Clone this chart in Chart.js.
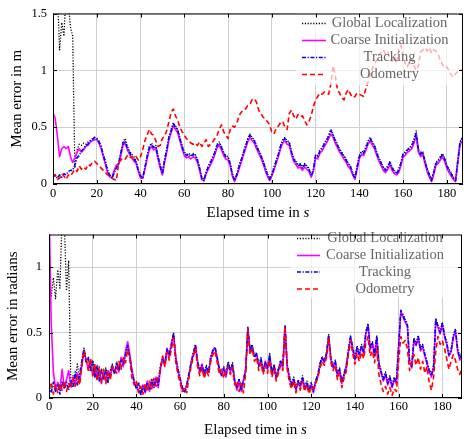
<!DOCTYPE html>
<html>
<head>
<meta charset="utf-8">
<script src="https://cdn.jsdelivr.net/npm/chart.js@4.4.1/dist/chart.umd.min.js"></script>
<style>
	html, body { margin: 0; padding: 0; background: #fff; }
	#wrap { position: relative; width: 464px; height: 439px; }
	canvas { position: absolute; left: 0; }
	#pos-chart { top: 0; }
	#rot-chart { top: 220px; }
</style>
</head>
<body>
<div id="wrap">
	<canvas id="pos-chart" width="464" height="220"></canvas>
	<canvas id="rot-chart" width="464" height="219"></canvas>
</div>
<script>
const seriesNames = ["Global Localization", "Coarse Initialization", "Tracking", "Odometry"];
const xTicks = [0, 20, 40, 60, 80, 100, 120, 140, 160, 180];
const posTicks = [0, 0.5, 1, 1.5];
const rotTicks = [0, 0.5, 1];

// position error (m), one sample per second
const posGlobal = [
	1.8, 1.8, 1.7, 1.18, 1.42, 1.3, 1.7, 1.6, 1.38, 1.3,
	0.14, 0.30, 0.35, 0.34, 0.36, 0.35, 0.37, 0.38, 0.40, 0.41,
	0.40, 0.38, 0.33, 0.26, 0.20, 0.12, 0.08, 0.06, 0.11, 0.15,
	0.19, 0.28, 0.37, 0.40, 0.33, 0.29, 0.26, 0.24, 0.20, 0.13,
	0.08, 0.06, 0.15, 0.25, 0.33, 0.36, 0.33, 0.34, 0.25, 0.17,
	0.10, 0.22, 0.31, 0.42, 0.48, 0.54, 0.51, 0.48, 0.41, 0.34,
	0.28, 0.26, 0.27, 0.25, 0.27, 0.26, 0.22, 0.15, 0.06, 0.04,
	0.11, 0.16, 0.20, 0.24, 0.29, 0.35, 0.37, 0.33, 0.28, 0.25,
	0.24, 0.19, 0.09, 0.04, 0.09, 0.16, 0.22, 0.28, 0.34, 0.40,
	0.44, 0.41, 0.39, 0.34, 0.30, 0.26, 0.21, 0.15, 0.09, 0.05,
	0.09, 0.15, 0.21, 0.27, 0.34, 0.39, 0.41, 0.38, 0.37, 0.29,
	0.23, 0.20, 0.17, 0.18, 0.15, 0.18, 0.16, 0.14, 0.08, 0.13,
	0.26, 0.25, 0.30, 0.32, 0.36, 0.39, 0.43, 0.48, 0.44, 0.39,
	0.35, 0.31, 0.28, 0.25, 0.22, 0.18, 0.16, 0.10, 0.06, 0.16,
	0.25, 0.29, 0.28, 0.33, 0.38, 0.41, 0.37, 0.34, 0.28, 0.23,
	0.19, 0.15, 0.13, 0.16, 0.20, 0.15, 0.12, 0.10, 0.13, 0.19,
	0.27, 0.28, 0.31, 0.32, 0.35, 0.40, 0.47, 0.31, 0.27, 0.29,
	0.21, 0.14, 0.09, 0.04, 0.11, 0.19, 0.21, 0.24, 0.27, 0.23,
	0.17, 0.13, 0.10, 0.06, 0.04, 0.21, 0.37, 0.41,
];
const posCoarse = [
	0.62, 0.58, 0.42, 0.24, 0.31, 0.33, 0.31, 0.33, 0.24, 0.19,
	0.23, 0.28, 0.31, 0.28, 0.30, 0.33, 0.34, 0.37, 0.38, 0.39,
	0.39, 0.36, 0.31, 0.24, 0.17, 0.10, 0.06, 0.06, 0.12, 0.17,
	0.17, 0.25, 0.34, 0.36, 0.30, 0.26, 0.23, 0.20, 0.18, 0.11,
	0.05, 0.05, 0.13, 0.22, 0.30, 0.33, 0.30, 0.31, 0.22, 0.14,
	0.08, 0.19, 0.28, 0.39, 0.45, 0.51, 0.48, 0.45, 0.38, 0.31,
	0.25, 0.23, 0.24, 0.22, 0.24, 0.23, 0.19, 0.12, 0.04, 0.03,
	0.09, 0.13, 0.17, 0.21, 0.26, 0.32, 0.34, 0.30, 0.25, 0.22,
	0.21, 0.16, 0.07, 0.02, 0.07, 0.13, 0.19, 0.25, 0.31, 0.37,
	0.41, 0.38, 0.36, 0.31, 0.27, 0.23, 0.18, 0.12, 0.07, 0.03,
	0.07, 0.12, 0.18, 0.24, 0.31, 0.36, 0.38, 0.35, 0.34, 0.26,
	0.20, 0.17, 0.14, 0.15, 0.12, 0.15, 0.13, 0.11, 0.06, 0.11,
	0.23, 0.22, 0.27, 0.29, 0.33, 0.36, 0.40, 0.44, 0.41, 0.36,
	0.32, 0.28, 0.25, 0.22, 0.19, 0.15, 0.13, 0.08, 0.04, 0.13,
	0.22, 0.26, 0.25, 0.30, 0.35, 0.38, 0.34, 0.31, 0.25, 0.20,
	0.16, 0.12, 0.10, 0.13, 0.17, 0.12, 0.09, 0.08, 0.10, 0.16,
	0.24, 0.25, 0.28, 0.29, 0.31, 0.36, 0.42, 0.28, 0.24, 0.26,
	0.18, 0.11, 0.06, 0.02, 0.08, 0.16, 0.18, 0.21, 0.24, 0.20,
	0.14, 0.10, 0.07, 0.04, 0.02, 0.18, 0.34, 0.38,
];
const posTracking = [
	0.06, 0.08, 0.05, 0.08, 0.06, 0.09, 0.08, 0.11, 0.12, 0.12,
	0.17, 0.23, 0.25, 0.29, 0.31, 0.34, 0.35, 0.38, 0.39, 0.41,
	0.40, 0.37, 0.33, 0.25, 0.19, 0.11, 0.07, 0.05, 0.10, 0.14,
	0.18, 0.27, 0.36, 0.38, 0.31, 0.28, 0.24, 0.22, 0.19, 0.12,
	0.07, 0.05, 0.14, 0.24, 0.32, 0.35, 0.32, 0.33, 0.24, 0.16,
	0.09, 0.21, 0.30, 0.41, 0.47, 0.53, 0.50, 0.47, 0.40, 0.33,
	0.27, 0.25, 0.26, 0.24, 0.26, 0.25, 0.21, 0.14, 0.05, 0.03,
	0.10, 0.15, 0.19, 0.23, 0.28, 0.34, 0.36, 0.32, 0.27, 0.24,
	0.23, 0.18, 0.08, 0.03, 0.08, 0.15, 0.21, 0.27, 0.33, 0.39,
	0.43, 0.40, 0.38, 0.33, 0.29, 0.25, 0.20, 0.14, 0.08, 0.04,
	0.08, 0.14, 0.20, 0.26, 0.33, 0.38, 0.40, 0.37, 0.36, 0.28,
	0.22, 0.19, 0.16, 0.17, 0.14, 0.17, 0.15, 0.13, 0.07, 0.12,
	0.25, 0.24, 0.29, 0.31, 0.35, 0.38, 0.42, 0.47, 0.43, 0.38,
	0.34, 0.30, 0.27, 0.24, 0.21, 0.17, 0.15, 0.09, 0.05, 0.15,
	0.24, 0.28, 0.27, 0.32, 0.37, 0.40, 0.36, 0.33, 0.27, 0.22,
	0.18, 0.14, 0.12, 0.15, 0.19, 0.14, 0.11, 0.09, 0.12, 0.18,
	0.26, 0.27, 0.30, 0.31, 0.33, 0.38, 0.45, 0.30, 0.26, 0.28,
	0.20, 0.13, 0.08, 0.03, 0.10, 0.18, 0.20, 0.23, 0.26, 0.22,
	0.16, 0.12, 0.09, 0.05, 0.03, 0.20, 0.36, 0.40,
];
const posOdometry = [
	0.06, 0.08, 0.04, 0.05, 0.09, 0.07, 0.04, 0.08, 0.07, 0.10,
	0.13, 0.11, 0.16, 0.13, 0.15, 0.13, 0.17, 0.16, 0.19, 0.20,
	0.18, 0.16, 0.14, 0.12, 0.10, 0.08, 0.07, 0.05, 0.04, 0.03,
	0.19, 0.21, 0.23, 0.22, 0.25, 0.23, 0.24, 0.22, 0.24, 0.21,
	0.24, 0.30, 0.38, 0.43, 0.48, 0.44, 0.43, 0.38, 0.33, 0.34,
	0.40, 0.42, 0.47, 0.55, 0.63, 0.66, 0.60, 0.56, 0.50, 0.46,
	0.43, 0.40, 0.38, 0.36, 0.35, 0.36, 0.34, 0.37, 0.33, 0.36,
	0.39, 0.33, 0.35, 0.37, 0.40, 0.43, 0.48, 0.52, 0.46, 0.43,
	0.40, 0.48, 0.51, 0.50, 0.53, 0.60, 0.63, 0.65, 0.66, 0.69,
	0.70, 0.74, 0.75, 0.72, 0.65, 0.62, 0.59, 0.57, 0.55, 0.52,
	0.46, 0.44, 0.49, 0.51, 0.54, 0.55, 0.50, 0.48, 0.62, 0.65,
	0.60, 0.57, 0.61, 0.59, 0.60, 0.56, 0.52, 0.55, 0.60, 0.68,
	0.74, 0.77, 0.80, 0.79, 0.81, 0.80, 0.79, 0.88, 1.04, 0.96,
	0.83, 0.80, 0.76, 0.74, 0.80, 0.83, 0.79, 0.76, 0.77, 0.80,
	0.79, 0.78, 0.77, 0.84, 0.90, 0.97, 1.02, 1.06, 1.09, 1.13,
	1.16, 1.18, 1.14, 1.16, 1.10, 1.08, 1.12, 1.06, 1.18, 1.22,
	1.14, 1.06, 1.03, 1.08, 1.10, 1.04, 1.00, 1.04, 1.16, 1.18,
	1.20, 1.17, 1.20, 1.15, 1.18, 1.17, 1.14, 1.09, 1.05, 1.02,
	1.03, 1.00, 0.96, 0.94, 0.97, 0.99, 1.00, 1.01,
];

// rotation error (rad), one sample per second
const rotGlobal = [
	1.0, 0.78, 0.92, 0.76, 0.98, 0.84, 1.4, 1.35, 0.82, 1.05,
	0.10, 0.17, 0.13, 0.26, 0.15, 0.24, 0.37, 0.28, 0.30, 0.22,
	0.29, 0.17, 0.25, 0.14, 0.22, 0.15, 0.23, 0.13, 0.21, 0.26,
	0.19, 0.28, 0.22, 0.30, 0.26, 0.34, 0.39, 0.32, 0.20, 0.13,
	0.08, 0.12, 0.03, 0.10, 0.06, 0.13, 0.07, 0.15, 0.09, 0.16,
	0.11, 0.25, 0.31, 0.27, 0.38, 0.34, 0.41, 0.49, 0.31, 0.23,
	0.15, 0.09, 0.05, 0.10, 0.19, 0.27, 0.35, 0.40, 0.28, 0.22,
	0.26, 0.19, 0.25, 0.20, 0.32, 0.37, 0.38, 0.31, 0.23, 0.18,
	0.24, 0.19, 0.28, 0.22, 0.27, 0.13, 0.09, 0.15, 0.07, 0.14,
	0.23, 0.53, 0.37, 0.41, 0.32, 0.35, 0.25, 0.31, 0.22, 0.28,
	0.24, 0.34, 0.20, 0.26, 0.17, 0.23, 0.29, 0.25, 0.55, 0.26,
	0.17, 0.11, 0.16, 0.08, 0.14, 0.10, 0.17, 0.09, 0.13, 0.07,
	0.12, 0.06, 0.14, 0.18, 0.27, 0.32, 0.29, 0.35, 0.49, 0.31,
	0.25, 0.29, 0.19, 0.23, 0.13, 0.19, 0.25, 0.37, 0.48, 0.39,
	0.31, 0.40, 0.34, 0.41, 0.36, 0.51, 0.57, 0.39, 0.43, 0.34,
	0.48, 0.27, 0.21, 0.15, 0.20, 0.12, 0.17, 0.10, 0.16, 0.13,
	0.41, 0.66, 0.64, 0.60, 0.57, 0.29, 0.25, 0.46, 0.42, 0.48,
	0.38, 0.41, 0.34, 0.28, 0.22, 0.18, 0.25, 0.61, 0.56, 0.51,
	0.58, 0.49, 0.43, 0.34, 0.37, 0.48, 0.53, 0.38, 0.31, 0.35,
];
const rotCoarse = [
	1.5, 0.58, 0.20, 0.07, 0.12, 0.06, 0.22, 0.08, 0.14, 0.21,
	0.09, 0.16, 0.10, 0.19, 0.12, 0.25, 0.36, 0.29, 0.22, 0.29,
	0.17, 0.25, 0.14, 0.22, 0.11, 0.20, 0.13, 0.21, 0.15, 0.23,
	0.20, 0.24, 0.20, 0.31, 0.24, 0.36, 0.43, 0.33, 0.21, 0.13,
	0.09, 0.05, 0.03, 0.10, 0.04, 0.13, 0.05, 0.12, 0.09, 0.16,
	0.08, 0.22, 0.31, 0.25, 0.38, 0.31, 0.42, 0.48, 0.32, 0.20,
	0.15, 0.06, 0.05, 0.10, 0.17, 0.27, 0.33, 0.40, 0.28, 0.19,
	0.26, 0.17, 0.23, 0.20, 0.29, 0.37, 0.38, 0.31, 0.20, 0.18,
	0.22, 0.16, 0.25, 0.20, 0.24, 0.13, 0.06, 0.12, 0.05, 0.14,
	0.20, 0.52, 0.37, 0.38, 0.32, 0.33, 0.25, 0.28, 0.20, 0.28,
	0.22, 0.31, 0.18, 0.24, 0.15, 0.21, 0.27, 0.23, 0.54, 0.24,
	0.15, 0.09, 0.14, 0.06, 0.12, 0.08, 0.15, 0.07, 0.11, 0.05,
	0.10, 0.04, 0.12, 0.16, 0.25, 0.30, 0.27, 0.33, 0.47, 0.29,
	0.23, 0.27, 0.17, 0.21, 0.11, 0.17, 0.23, 0.35, 0.46, 0.37,
	0.29, 0.38, 0.32, 0.39, 0.34, 0.49, 0.55, 0.37, 0.41, 0.32,
	0.46, 0.25, 0.19, 0.13, 0.18, 0.10, 0.15, 0.08, 0.14, 0.11,
	0.39, 0.66, 0.62, 0.58, 0.55, 0.27, 0.23, 0.44, 0.40, 0.46,
	0.36, 0.39, 0.32, 0.26, 0.20, 0.16, 0.23, 0.59, 0.54, 0.49,
	0.56, 0.47, 0.41, 0.32, 0.35, 0.46, 0.51, 0.36, 0.29, 0.33,
];
const rotTracking = [
	0.10, 0.04, 0.12, 0.05, 0.10, 0.03, 0.13, 0.07, 0.12, 0.06,
	0.14, 0.08, 0.20, 0.10, 0.18, 0.28, 0.38, 0.27, 0.31, 0.20,
	0.28, 0.16, 0.24, 0.13, 0.21, 0.14, 0.22, 0.12, 0.20, 0.25,
	0.18, 0.27, 0.21, 0.29, 0.25, 0.33, 0.40, 0.31, 0.19, 0.12,
	0.07, 0.11, 0.02, 0.09, 0.05, 0.12, 0.06, 0.14, 0.08, 0.15,
	0.10, 0.24, 0.30, 0.26, 0.37, 0.33, 0.40, 0.50, 0.30, 0.22,
	0.14, 0.08, 0.04, 0.09, 0.18, 0.26, 0.34, 0.41, 0.27, 0.21,
	0.25, 0.18, 0.24, 0.19, 0.31, 0.36, 0.39, 0.30, 0.22, 0.17,
	0.23, 0.18, 0.27, 0.21, 0.26, 0.12, 0.08, 0.14, 0.06, 0.13,
	0.22, 0.54, 0.36, 0.40, 0.31, 0.34, 0.24, 0.30, 0.21, 0.27,
	0.23, 0.33, 0.19, 0.25, 0.16, 0.22, 0.28, 0.24, 0.56, 0.25,
	0.16, 0.10, 0.15, 0.07, 0.13, 0.09, 0.16, 0.08, 0.12, 0.06,
	0.11, 0.05, 0.13, 0.17, 0.26, 0.31, 0.28, 0.34, 0.48, 0.30,
	0.24, 0.28, 0.18, 0.22, 0.12, 0.18, 0.24, 0.36, 0.47, 0.38,
	0.30, 0.39, 0.33, 0.40, 0.35, 0.50, 0.56, 0.38, 0.42, 0.33,
	0.47, 0.26, 0.20, 0.14, 0.19, 0.11, 0.16, 0.09, 0.15, 0.12,
	0.40, 0.67, 0.63, 0.59, 0.56, 0.28, 0.24, 0.45, 0.41, 0.47,
	0.37, 0.40, 0.33, 0.27, 0.21, 0.17, 0.24, 0.60, 0.55, 0.50,
	0.57, 0.48, 0.42, 0.33, 0.36, 0.47, 0.52, 0.37, 0.30, 0.34,
];
const rotOdometry = [
	0.07, 0.12, 0.03, 0.10, 0.04, 0.11, 0.06, 0.13, 0.05, 0.11,
	0.07, 0.15, 0.09, 0.17, 0.10, 0.24, 0.36, 0.30, 0.21, 0.30,
	0.17, 0.26, 0.13, 0.24, 0.12, 0.22, 0.11, 0.21, 0.14, 0.24,
	0.22, 0.19, 0.28, 0.22, 0.31, 0.27, 0.37, 0.30, 0.15, 0.10,
	0.13, 0.04, 0.09, 0.03, 0.11, 0.05, 0.13, 0.07, 0.15, 0.09,
	0.17, 0.21, 0.32, 0.24, 0.35, 0.29, 0.37, 0.46, 0.28, 0.18,
	0.12, 0.05, 0.08, 0.04, 0.15, 0.24, 0.31, 0.38, 0.24, 0.17,
	0.23, 0.15, 0.21, 0.17, 0.28, 0.33, 0.36, 0.27, 0.18, 0.22,
	0.15, 0.21, 0.24, 0.18, 0.23, 0.10, 0.13, 0.05, 0.11, 0.04,
	0.19, 0.53, 0.33, 0.38, 0.28, 0.31, 0.21, 0.27, 0.18, 0.25,
	0.19, 0.29, 0.16, 0.22, 0.13, 0.19, 0.25, 0.21, 0.55, 0.22,
	0.12, 0.07, 0.13, 0.04, 0.11, 0.06, 0.13, 0.05, 0.10, 0.03,
	0.09, 0.07, 0.11, 0.15, 0.23, 0.28, 0.25, 0.31, 0.46, 0.27,
	0.21, 0.25, 0.14, 0.19, 0.08, 0.15, 0.20, 0.33, 0.44, 0.34,
	0.26, 0.34, 0.28, 0.35, 0.30, 0.42, 0.47, 0.32, 0.36, 0.27,
	0.38, 0.18, 0.10, 0.05, 0.09, 0.03, 0.08, 0.02, 0.07, 0.05,
	0.28, 0.47, 0.42, 0.44, 0.38, 0.21, 0.27, 0.33, 0.25, 0.31,
	0.22, 0.28, 0.19, 0.24, 0.12, 0.06, 0.16, 0.36, 0.47, 0.41,
	0.44, 0.38, 0.30, 0.22, 0.28, 0.33, 0.29, 0.22, 0.18, 0.24,
];

const secondsPos = posTracking.map((_, i) => i);
const secondsRot = rotTracking.map((_, i) => i);

const seriesStyle = [
	{ color: "#000000", dash: [1.2, 1.6], width: 1.3, order: 4 },
	{ color: "#ff00ff", dash: [], width: 1.6, order: 3 },
	{ color: "#0000ff", dash: [4, 1.6, 1.2, 1.6], width: 1.6, order: 2 },
	{ color: "#ff0000", dash: [5, 3], width: 1.6, order: 1 },
];

const FONT = "'Liberation Serif', 'Times New Roman', serif";
Chart.defaults.font.family = FONT;

function boxPlugin(cfg) {
	return {
		id: "boxed",
		afterDraw(chart) {
			const { ctx, chartArea: a } = chart;
			const xs = chart.scales.x;
			const ys = chart.scales.y;
			ctx.save();

			// legend, semi transparent
			const lg = cfg.legend;
			ctx.fillStyle = "rgba(255,255,255,0.68)";
			ctx.fillRect(lg.x, lg.y, lg.w, lg.h);
			seriesNames.forEach((name, i) => {
				const st = seriesStyle[i];
				const y = lg.rows[i];
				ctx.strokeStyle = st.color;
				ctx.lineWidth = st.width;
				ctx.setLineDash(st.dash);
				ctx.beginPath();
				ctx.moveTo(lg.lineFrom, y);
				ctx.lineTo(lg.lineTo, y);
				ctx.stroke();
				ctx.setLineDash([]);
				ctx.fillStyle = "#666";
				ctx.font = "14.5px " + FONT;
				ctx.textAlign = "center";
				ctx.textBaseline = "middle";
				ctx.fillText(name, lg.textX, y);
			});

			// inner tick marks and frame
			ctx.strokeStyle = "#000";
			ctx.lineWidth = 1;
			ctx.beginPath();
			xTicks.forEach((v) => {
				const px = Math.round(xs.getPixelForValue(v)) + 0.5;
				ctx.moveTo(px, a.bottom);
				ctx.lineTo(px, a.bottom - 4);
				ctx.moveTo(px, a.top);
				ctx.lineTo(px, a.top + 4);
			});
			cfg.yTicks.forEach((v) => {
				const py = Math.round(ys.getPixelForValue(v)) + 0.5;
				ctx.moveTo(a.left, py);
				ctx.lineTo(a.left + 4, py);
				ctx.moveTo(a.right, py);
				ctx.lineTo(a.right - 4, py);
			});
			ctx.stroke();
			ctx.strokeRect(a.left + 0.5, a.top + 0.5, a.right - a.left - 1, a.bottom - a.top - 1);

			// axis titles
			ctx.fillStyle = "#000";
			ctx.textBaseline = "middle";
			const plain = "Elapsed time in ";
			ctx.font = "15px " + FONT;
			const w1 = ctx.measureText(plain).width;
			ctx.font = "italic 15px " + FONT;
			const w2 = ctx.measureText("s").width;
			const x0 = (a.left + a.right) / 2 - (w1 + w2) / 2;
			ctx.textAlign = "left";
			ctx.font = "15px " + FONT;
			ctx.fillText(plain, x0, cfg.xTitleY);
			ctx.font = "italic 15px " + FONT;
			ctx.fillText("s", x0 + w1, cfg.xTitleY);

			ctx.font = "15px " + FONT;
			ctx.textAlign = "center";
			ctx.translate(cfg.yTitleX, (a.top + a.bottom) / 2);
			ctx.rotate(-Math.PI / 2);
			ctx.fillText(cfg.yTitle, 0, 0);
			ctx.restore();
		},
	};
}

function renderChart(canvasId, cfg) {
	const values = [cfg.global, cfg.coarse, cfg.tracking, cfg.odometry];
	return new Chart(document.getElementById(canvasId), {
		type: "line",
		data: {
			labels: cfg.seconds,
			datasets: values.map((v, i) => ({
				label: seriesNames[i],
				data: v,
				borderColor: seriesStyle[i].color,
				borderDash: seriesStyle[i].dash,
				borderWidth: seriesStyle[i].width,
				borderJoinStyle: "round",
				pointRadius: 0,
				tension: 0,
				fill: false,
				order: seriesStyle[i].order,
			})),
		},
		options: {
			responsive: false,
			animation: false,
			devicePixelRatio: 1,
			events: [],
			layout: { padding: cfg.padding },
			plugins: {
				legend: { display: false },
				tooltip: { enabled: false },
			},
			scales: {
				x: {
					type: "linear",
					min: 0,
					max: cfg.xMax,
					afterBuildTicks: (s) => {
						s.ticks = xTicks.map((v) => ({ value: v }));
					},
					afterFit: (s) => {
						s.height = cfg.xHeight;
					},
					grid: { color: "#cfcfcf", drawTicks: false },
					border: { display: false },
					ticks: {
						color: "#000",
						font: { size: 12.5 },
						padding: cfg.xPad,
						maxRotation: 0,
						autoSkip: false,
						callback: (v) => String(v),
					},
				},
				y: {
					min: 0,
					max: cfg.yMax,
					afterBuildTicks: (s) => {
						s.ticks = cfg.yTicks.map((v) => ({ value: v }));
					},
					afterFit: (s) => {
						s.width = cfg.yWidth;
					},
					grid: { color: "#cfcfcf", drawTicks: false },
					border: { display: false },
					ticks: {
						color: "#000",
						font: { size: 12.5 },
						padding: cfg.yPad,
						callback: (v) => String(v),
					},
				},
			},
		},
		plugins: [boxPlugin(cfg)],
	});
}

renderChart("pos-chart", {
	seconds: secondsPos,
	global: posGlobal,
	coarse: posCoarse,
	tracking: posTracking,
	odometry: posOdometry,
	xMax: 187.4,
	yMax: 1.5,
	yTicks: posTicks,
	yTitle: "Mean error in m",
	padding: { top: 8, right: 1, left: 0, bottom: 0 },
	yWidth: 53,
	xHeight: 36,
	xPad: 2,
	yPad: 6,
	xTitleY: 213,
	yTitleX: 17.5,
	legend: { x: 296, y: 9, w: 166, h: 76, rows: [23.5, 40.5, 57.5, 74.5], lineFrom: 302, lineTo: 326, textX: 389.5 },
});

renderChart("rot-chart", {
	seconds: secondsRot,
	global: rotGlobal,
	coarse: rotCoarse,
	tracking: rotTracking,
	odometry: rotOdometry,
	xMax: 189,
	yMax: 1.25,
	yTicks: rotTicks,
	yTitle: "Mean error in radians",
	padding: { top: 2, right: 2, left: 0, bottom: 0 },
	yWidth: 49,
	xHeight: 41,
	xPad: 1,
	yPad: 7,
	xTitleY: 210,
	yTitleX: 13,
	legend: { x: 291, y: 4, w: 170, h: 74, rows: [18.5, 35.5, 52, 69], lineFrom: 297, lineTo: 320, textX: 385 },
});
</script>
</body>
</html>
